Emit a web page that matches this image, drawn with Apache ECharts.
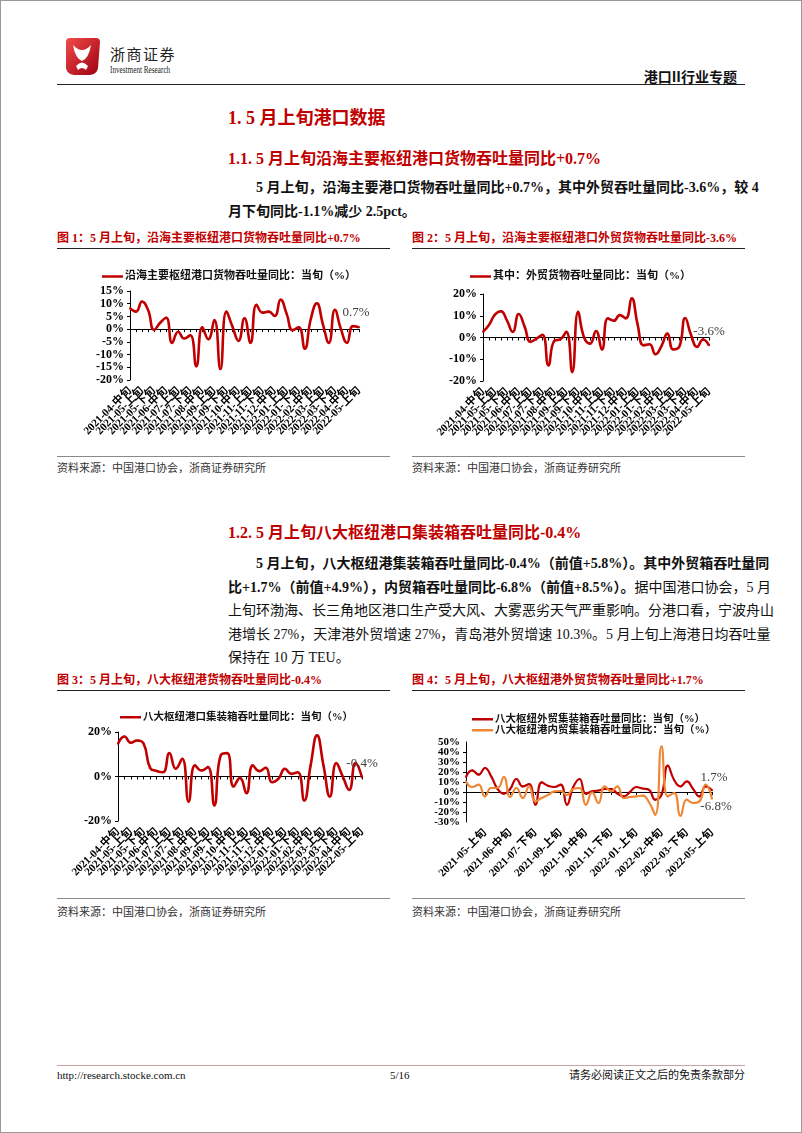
<!DOCTYPE html>
<html><head><meta charset="utf-8">
<script src="https://cdn.jsdelivr.net/npm/echarts@6/dist/echarts.min.js"></script>
<style>
html,body{margin:0;padding:0;background:#fff;}
#page{position:relative;width:802px;height:1133px;overflow:hidden;background:#fff;font-family:"Liberation Serif","Noto Sans CJK SC",serif;color:#111;}
.t{position:absolute;white-space:nowrap;}
.h1{font-size:18px;line-height:24px;font-weight:bold;color:#C00000;left:228px;}
.h2{font-size:16px;line-height:22px;font-weight:bold;color:#C00000;left:228px;}
.pl{position:absolute;left:228px;width:517px;font-size:14px;line-height:20px;white-space:nowrap;text-align:justify;text-align-last:justify;}
.pl.first{left:256px;width:489px;}
.pl.last{text-align-last:left;}
.b{font-weight:bold;}
.ft{font-size:12px;line-height:16px;font-weight:bold;color:#C00000;}
.src{font-size:11px;line-height:16px;color:#333;}
.hl{position:absolute;height:0;}
.chart{position:absolute;width:333px;height:205px;}
</style></head>
<body><div id="page">
<div style="position:absolute;left:0;top:0;width:800px;height:1131px;border:1px solid #9a9a9a;"></div>
<svg style="position:absolute;left:62px;top:36px" width="40" height="42">
 <defs><linearGradient id="lg" x1="0" y1="0" x2="1" y2="1"><stop offset="0" stop-color="#f24a4a"/><stop offset="1" stop-color="#9c0010"/></linearGradient></defs>
 <path d="M4 6 Q4 2 8 2 L34 2 Q38 2 38 6 L36 32 Q35 38 28 39 L12 39 Q5 38 4 32 Z" fill="url(#lg)"/>
 <path d="M11 9 Q20 19 29 9 Q27 22 20 25 Q13 22 11 9Z" fill="#fff"/>
 <path d="M14 30 Q20 23 26 30 L24 34 Q20 30 16 34Z" fill="#fff"/>
</svg>
<div class="t" style="left:110px;top:44px;font-size:15px;line-height:20px;letter-spacing:1.5px;font-family:'Noto Sans CJK SC';color:#222;">浙商证券</div>
<div class="t" style="left:110px;top:64px;font-size:10px;line-height:12px;transform:scaleX(0.72);transform-origin:left center;color:#222;">Investment Research</div>
<div class="t" style="right:65px;top:66px;font-size:14px;line-height:20px;font-weight:bold;font-family:'Noto Sans CJK SC';">港口II行业专题</div>
<div class="hl" style="left:57px;top:84px;width:688px;border-top:1.5px solid #222;"></div>

<div class="t h1" style="top:106px;">1. 5 月上旬港口数据</div>
<div class="t h2" style="top:148px;">1.1. 5 月上旬沿海主要枢纽港口货物吞吐量同比+0.7%</div>
<div class="pl first b" style="top:178px;">5 月上旬，沿海主要港口货物吞吐量同比+0.7%，其中外贸吞吐量同比-3.6%，较 4</div>
<div class="pl last b" style="top:202px;">月下旬同比-1.1%减少 2.5pct。</div>

<div class="t ft" style="left:57px;top:230px;">图 1：5 月上旬，沿海主要枢纽港口货物吞吐量同比+0.7%</div>
<div class="t ft" style="left:412px;top:230px;">图 2：5 月上旬，沿海主要枢纽港口外贸货物吞吐量同比-3.6%</div>
<div class="hl" style="left:57px;top:248px;width:333px;border-top:1px solid #222;"></div>
<div class="hl" style="left:412px;top:248px;width:333px;border-top:1px solid #222;"></div>
<div id="c1" class="chart" style="left:57px;top:250px;"></div>
<div id="c2" class="chart" style="left:412px;top:250px;"></div>
<div class="hl" style="left:57px;top:456px;width:333px;border-top:1.5px solid #8a8a8a;"></div>
<div class="hl" style="left:412px;top:456px;width:333px;border-top:1.5px solid #8a8a8a;"></div>
<div class="t src" style="left:57px;top:460px;">资料来源：中国港口协会，浙商证券研究所</div>
<div class="t src" style="left:412px;top:460px;">资料来源：中国港口协会，浙商证券研究所</div>

<div class="t h2" style="top:522px;">1.2. 5 月上旬八大枢纽港口集装箱吞吐量同比-0.4%</div>
<div class="pl first b" style="top:554px;">5 月上旬，八大枢纽港集装箱吞吐量同比-0.4%（前值+5.8%）。其中外贸箱吞吐量同</div>
<div class="pl" style="top:578px;"><b>比+1.7%（前值+4.9%），内贸箱吞吐量同比-6.8%（前值+8.5%）。</b>据中国港口协会，5 月</div>
<div class="pl" style="top:601px;">上旬环渤海、长三角地区港口生产受大风、大雾恶劣天气严重影响。分港口看，宁波舟山</div>
<div class="pl" style="top:625px;">港增长 27%，天津港外贸增速 27%，青岛港外贸增速 10.3%。5 月上旬上海港日均吞吐量</div>
<div class="pl last" style="top:648px;">保持在 10 万 TEU。</div>

<div class="t ft" style="left:57px;top:672px;">图 3：5 月上旬，八大枢纽港货物吞吐量同比-0.4%</div>
<div class="t ft" style="left:412px;top:672px;">图 4：5 月上旬，八大枢纽港外贸货物吞吐量同比+1.7%</div>
<div class="hl" style="left:57px;top:690px;width:333px;border-top:1px solid #222;"></div>
<div class="hl" style="left:412px;top:690px;width:333px;border-top:1px solid #222;"></div>
<div id="c3" class="chart" style="left:57px;top:692px;"></div>
<div id="c4" class="chart" style="left:412px;top:692px;"></div>
<div class="hl" style="left:57px;top:898px;width:333px;border-top:1.5px solid #8a8a8a;"></div>
<div class="hl" style="left:412px;top:898px;width:333px;border-top:1.5px solid #8a8a8a;"></div>
<div class="t src" style="left:57px;top:904px;">资料来源：中国港口协会，浙商证券研究所</div>
<div class="t src" style="left:412px;top:904px;">资料来源：中国港口协会，浙商证券研究所</div>

<div class="hl" style="left:57px;top:1065px;width:688px;border-top:1px solid #c9a3a3;"></div>
<div class="t" style="left:57px;top:1067px;font-size:11px;line-height:16px;">http://research.stocke.com.cn</div>
<div class="t" style="left:390px;top:1067px;font-size:11px;line-height:16px;">5/16</div>
<div class="t" style="right:57px;top:1067px;font-size:11px;line-height:16px;">请务必阅读正文之后的免责条款部分</div>
</div>
<script>
// ---- data ----
const catsFrom0401 = ['2021-04-上旬','2021-04-中旬','2021-04-下旬','2021-05-上旬','2021-05-中旬','2021-05-下旬','2021-06-上旬','2021-06-中旬','2021-06-下旬','2021-07-上旬','2021-07-中旬','2021-07-下旬','2021-08-上旬','2021-08-中旬','2021-08-下旬','2021-09-上旬','2021-09-中旬','2021-09-下旬','2021-10-上旬','2021-10-中旬','2021-10-下旬','2021-11-上旬','2021-11-中旬','2021-11-下旬','2021-12-上旬','2021-12-中旬','2021-12-下旬','2022-01-上旬','2022-01-中旬','2022-01-下旬','2022-02-上旬','2022-02-中旬','2022-02-下旬','2022-03-上旬','2022-03-中旬','2022-03-下旬','2022-04-上旬','2022-04-中旬','2022-04-下旬','2022-05-上旬'];
const catsFrom0402 = ['2021-04-中旬','2021-04-下旬','2021-05-上旬','2021-05-中旬','2021-05-下旬','2021-06-上旬','2021-06-中旬','2021-06-下旬','2021-07-上旬','2021-07-中旬','2021-07-下旬','2021-08-上旬','2021-08-中旬','2021-08-下旬','2021-09-上旬','2021-09-中旬','2021-09-下旬','2021-10-上旬','2021-10-中旬','2021-10-下旬','2021-11-上旬','2021-11-中旬','2021-11-下旬','2021-12-上旬','2021-12-中旬','2021-12-下旬','2022-01-上旬','2022-01-中旬','2022-01-下旬','2022-02-上旬','2022-02-中旬','2022-02-下旬','2022-03-上旬','2022-03-中旬','2022-03-下旬','2022-04-上旬','2022-04-中旬','2022-04-下旬','2022-05-上旬'];

const coastalTotal = [8.2, 6.9, 10.9, 7.5, -0.3, 2.5, 4.5, -5.4, -1, -3.7, -2.4, -14.6, 0.7, -4, 3.6, -15.7, 6.9, 1, -4.6, 4.3, -5.4, 9.6, 6.5, 6.9, 5.2, 11.6, 6, -0.4, 0.7, -7.7, 4, 10.2, 2, -5.4, 7.6, 0, -5.4, 1.2, 0.7];
const coastalForeign = [2.6, 5.7, 10.5, 12.1, 8, 2.6, 10.8, 5, -2, -0.5, 1.2, -12.8, -1.5, -0.9, 2.6, -15.9, 11.8, 0, -2.8, 3, -5.5, 8.8, 7.7, 10.3, 8.8, 18, 6, -3.6, -3.1, -7.7, -4, 1.8, -5.5, -4.3, 9, 1, -4.3, -0.9, -3.6];
const hubContainer = [14.7, 18, 15.2, 16.2, 14.7, 3.9, 2.5, 1.9, 10.5, 3.5, 8, -11.3, 5, 2.7, 4.2, -13, 9.5, 10.5, -4.5, -0.6, -7.5, 5, 2.4, 3.9, -2.6, -1, 3.5, 1.2, 1.9, -10.8, 5, 18.5, 5, -9, 6, 0, -6, 6, -0.4];
const hubForeign = [15, 21.6, 17.3, 24, 15.6, 3, -1.7, 3, 13, 5.6, 8, -12.7, 9.6, 6.3, 5, 7.3, -12.7, 5, 13, -1.7, 0.6, 1.5, 3, 3, -1.5, -4.4, 0, 5, 3.5, 2.3, -7.7, -2.7, 26.3, 12, 5.6, 10.6, 3, -4.4, 5.6, 1.7];
const hubDomestic = [10.6, 5, 7.3, -4.4, 4, 4, 15, -5, 4, -6, 5.6, -9.4, -6, -3, 0.6, 1, -3, 3, 4, -12.7, -0.3, -11, 5.6, 0.6, 5.6, -6, -5, -4.4, -3.7, -10, -22.7, 45.6, -4.4, -1, -23.7, -7.7, -11, -9.4, 7.3, -6.8];

const name1 = '沿海主要枢纽港口货物吞吐量同比：当旬（%）';
const name2 = '其中：外贸货物吞吐量同比：当旬（%）';
const name3 = '八大枢纽港口集装箱吞吐量同比：当旬（%）';
const name4a = '八大枢纽外贸集装箱吞吐量同比：当旬（%）';
const name4b = '八大枢纽港内贸集装箱吞吐量同比：当旬（%）';

// ---- styling helpers ----
const SERIF = '"Liberation Serif","Noto Sans CJK SC",serif';
const RED = '#C00000', ORANGE = '#EE8836';

function lastLabel(arr, lab) {
  return arr.map((v, i) => i === arr.length - 1 ? {value: v, label: Object.assign({show: true, formatter: p => p.value + '%', fontFamily: SERIF, fontSize: 13, color: '#404040'}, lab)} : v);
}
// show every `step`-th category label, starting at `start`
function xAxes(cats, step, start, tickEvery) {
  return [
    {type: 'category', data: cats, boundaryGap: false, position: 'bottom',
     axisLine: {show: false, onZero: false}, axisTick: {show: false},
     axisLabel: {interval: 0, rotate: 45, fontSize: 11, fontWeight: 'bold', fontFamily: SERIF, color: '#000', margin: 9,
                 formatter: (v, i) => (i % step === start ? v : '')}},
    {type: 'category', data: cats, boundaryGap: false, position: 'bottom',
     axisLine: {show: true, onZero: true, lineStyle: {color: '#000', width: 1}},
     axisTick: {show: true, interval: tickEvery, length: 3, lineStyle: {color: '#000'}},
     axisLabel: {show: false}}
  ];
}
function yAxis(min, max, interval, fs, extra) {
  const ax = {type: 'value', min, max, interval, position: 'left',
    axisLine: {show: true, lineStyle: {color: '#000', width: 1}},
    axisTick: {show: true, length: 3, lineStyle: {color: '#000'}},
    splitLine: {show: false},
    axisLabel: {formatter: '{value}%', fontSize: fs, fontWeight: 'bold', fontFamily: SERIF, color: '#000', margin: 6,
                showMinLabel: true, showMaxLabel: true}};
  if (extra) { Object.assign(ax.axisLabel, extra.label || {}); if (extra.hideLine) { ax.axisLine.show = false; ax.axisTick.show = false; } }
  return ax;
}
function legend(names, left, top, fs) {
  return {data: names, left, top, orient: 'vertical', itemGap: 0, icon: 'rect', itemWidth: 21, itemHeight: 2.5,
    textStyle: {fontSize: fs, fontWeight: 'bold', fontFamily: SERIF, color: '#111', padding: [0, 0, 0, -3]}};
}
function line(name, data, color, w) {
  return {name, type: 'line', data, smooth: 0.5, symbol: 'circle', symbolSize: 2, showSymbol: true, showAllSymbol: true, xAxisIndex: 0, yAxisIndex: 0,
    lineStyle: {color, width: w}, itemStyle: {color}};
}

const c1 = echarts.init(document.getElementById('c1'));
c1.setOption({animation: false,
  grid: {left: 73, top: 41, width: 229, height: 89, outerBoundsMode: 'none'},
  legend: legend([name1], 40, 16, 11),
  xAxis: xAxes(catsFrom0402, 2, 0, 0),
  yAxis: yAxis(-20, 15, 5, 12),
  series: [line(name1, lastLabel(coastalTotal, {position: 'top', offset: [-3, -2]}), RED, 2.6)]
});

const c2 = echarts.init(document.getElementById('c2'));
c2.setOption({animation: false,
  grid: {left: 71, top: 44, width: 226, height: 87, outerBoundsMode: 'none'},
  legend: legend([name2], 53, 16, 11),
  xAxis: xAxes(catsFrom0402, 2, 0, 0),
  yAxis: yAxis(-20, 20, 10, 12),
  series: [line(name2, lastLabel(coastalForeign, {position: 'top', offset: [0, -1]}), RED, 2.6)]
});

const c3 = echarts.init(document.getElementById('c3'));
c3.setOption({animation: false,
  grid: {left: 61, top: 40, width: 244, height: 89, outerBoundsMode: 'none'},
  legend: legend([name3], 58, 15, 10.5),
  xAxis: xAxes(catsFrom0402, 2, 0, 0),
  yAxis: yAxis(-20, 20, 20, 12),
  series: [line(name3, lastLabel(hubContainer, {position: 'top', offset: [0, -1]}), RED, 2.6)]
});

// chart 4: labels are tightly packed, so the inner labels and the end labels go on two overlaid axes
const y4Min = -30, y4Max = 50;
const c4 = echarts.init(document.getElementById('c4'));
c4.setOption({animation: false,
  grid: {left: 54, top: 50, width: 246, height: 80, outerBoundsMode: 'none'},
  legend: [legend([name4a], 55, 17, 10.5), legend([name4b], 55, 28, 10.5)],
  xAxis: xAxes(catsFrom0401, 4, 3, (idx) => idx % 4 === 3),
  yAxis: [
    yAxis(y4Min, y4Max, 10, 11, {label: {showMinLabel: false, showMaxLabel: false}}),
    yAxis(y4Min, y4Max, 10, 11, {hideLine: true, label: {formatter: v => (v === y4Min || v === y4Max) ? v + '%' : ''}})
  ],
  series: [
    line(name4a, lastLabel(hubForeign, {position: 'top', offset: [2, 0]}), RED, 2.2),
    line(name4b, lastLabel(hubDomestic, {position: 'bottom', offset: [4, -5]}), ORANGE, 2.2)
  ]
});
</script>
</body></html>
